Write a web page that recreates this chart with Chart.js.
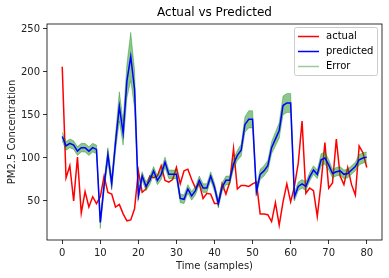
<!DOCTYPE html>
<html>
<head>
<meta charset="utf-8">
<script src="https://cdn.jsdelivr.net/npm/chart.js@4.4.1/dist/chart.umd.min.js"></script>
<style>
  html, body { margin: 0; padding: 0; background: #fff; }
</style>
</head>
<body>
<canvas id="chart" width="389" height="278"></canvas>
<script>
// values, one per sample (0..80)
const actual = [206, 77, 91, 50, 101, 36, 61, 43, 55, 47,
                55, 79, 60, 58, 43, 46, 35, 27, 28, 41,
                85, 60, 64, 79, 77, 79, 91, 74, 72, 75,
                89, 70, 85, 87, 75, 65, 70, 53, 59, 58,
                47, 47, 70, 58, 72, 111, 64, 68, 68, 67,
                70, 72, 35, 35, 34, 26, 48, 22, 49, 70,
                49, 67, 94, 143, 59, 65, 62, 32, 71, 118,
                65, 71, 122, 79, 69, 89, 69, 57, 114, 106,
                89];
const predicted = [125, 114, 117, 115, 108, 112, 112, 108, 112, 110,
                   25, 68, 104, 70, 118, 160, 129, 190, 218, 180,
                   56, 79, 67, 74, 85, 74, 81, 95, 81, 81,
                   81, 53, 52, 64, 56, 62, 74, 65, 65, 79,
                   66, 47, 66, 74, 74, 93, 103, 109, 139, 145,
                   145, 61, 81, 85, 91, 112, 122, 132, 161, 164,
                   164, 55, 67, 70, 67, 78, 86, 81, 98, 100,
                   92, 82, 84, 85, 81, 82, 86, 90, 98, 100,
                   101];
// half width of the green error band
const errorBand = [5, 5, 5, 5, 5, 5, 5, 5, 5, 5,
                   7, 6, 8, 7, 10, 17, 14, 20, 28, 22,
                   5, 5, 5, 5, 5, 5, 6, 6, 5, 5,
                   5, 5, 5, 5, 5, 5, 5, 5, 5, 5,
                   5, 5, 5, 5, 5, 6, 6, 7, 9, 10,
                   10, 5, 6, 6, 6, 7, 8, 9, 11, 11,
                   11, 5, 5, 5, 5, 5, 5, 5, 7, 7,
                   6, 5, 5, 5, 5, 5, 5, 5, 6, 6,
                   6];
const xTicks = [0, 10, 20, 30, 40, 50, 60, 70, 80];
const yTicks = [50, 100, 150, 200, 250];

const FONT = '"DejaVu Sans", sans-serif';
const pts = arr => arr.map((v, i) => ({x: i, y: v}));

// title over the plot, frame + legend box in the top right corner, matplotlib style
const boxLegend = {
    id: 'boxLegend',
    afterDraw(chart) {
        const {ctx, chartArea: a} = chart;
        ctx.save();
        ctx.fillStyle = '#000';
        ctx.font = '12px ' + FONT;
        ctx.textAlign = 'center';
        ctx.textBaseline = 'middle';
        ctx.fillText('Actual vs Predicted', (a.left + a.right) / 2, 12.5);

        ctx.strokeStyle = '#000';
        ctx.lineWidth = 0.8;
        ctx.strokeRect(a.left, a.top, a.right - a.left, a.bottom - a.top);

        const items = [['actual', '#ff0000'], ['predicted', '#0000ff'], ['Error', 'rgba(0,128,0,0.4)']];
        const w = 83, h = 48, x = a.right - w - 5, y = a.top + 3;
        ctx.fillStyle = 'rgba(255,255,255,0.8)';
        ctx.strokeStyle = '#cccccc';
        ctx.lineWidth = 1;
        ctx.beginPath();
        ctx.roundRect(x + 0.5, y + 0.5, w, h, 2);
        ctx.fill();
        ctx.stroke();
        ctx.font = '10px ' + FONT;
        ctx.textAlign = 'left';
        items.forEach(([label, color], k) => {
            const cy = y + 9.5 + k * 15;
            ctx.strokeStyle = color;
            ctx.lineWidth = 1.5;
            ctx.beginPath();
            ctx.moveTo(x + 4, cy);
            ctx.lineTo(x + 25, cy);
            ctx.stroke();
            ctx.fillStyle = '#000';
            ctx.fillText(label, x + 32, cy);
        });
        ctx.restore();
    }
};

new Chart(document.getElementById('chart'), {
    type: 'line',
    data: {
        datasets: [{
            label: 'actual',
            data: pts(actual),
            borderColor: '#ff0000',
            borderWidth: 1.5,
            pointRadius: 0,
            fill: false,
            order: 3
        }, {
            label: 'predicted',
            data: pts(predicted),
            borderColor: '#0000ff',
            borderWidth: 1.5,
            pointRadius: 0,
            fill: false,
            order: 1
        }, {
            label: 'upper',
            data: pts(predicted.map((v, i) => v + errorBand[i])),
            borderColor: 'rgba(0,128,0,0.35)',
            borderWidth: 1,
            pointRadius: 0,
            fill: false,
            order: 2
        }, {
            label: 'Error',
            data: pts(predicted.map((v, i) => v - errorBand[i])),
            borderColor: 'rgba(0,128,0,0.35)',
            backgroundColor: 'rgba(0,128,0,0.45)',
            borderWidth: 1,
            pointRadius: 0,
            fill: '-1',
            order: 2
        }]
    },
    options: {
        responsive: false,
        animation: false,
        layout: { padding: { left: 0, right: 7, top: 24, bottom: 0 } },
        plugins: {
            legend: { display: false },
            tooltip: { enabled: false },
            title: { display: false }
        },
        scales: {
            x: {
                type: 'linear',
                min: -4,
                max: 84,
                afterBuildTicks: s => { s.ticks = xTicks.map(v => ({value: v})); },
                afterFit: s => { s.height = 38; },
                grid: { drawOnChartArea: false, drawTicks: true, tickLength: 4, color: '#000', lineWidth: 0.8 },
                border: { display: false },
                ticks: { color: '#222', padding: 3, maxRotation: 0, font: { family: FONT, size: 10 } },
                title: {
                    display: true,
                    text: 'Time (samples)',
                    color: '#222',
                    font: { family: FONT, size: 10 },
                    padding: { top: 0, bottom: 6 }
                }
            },
            y: {
                min: 4.65,
                max: 255.8,
                afterBuildTicks: s => { s.ticks = yTicks.map(v => ({value: v})); },
                afterFit: s => { s.width = 47; },
                grid: { drawOnChartArea: false, drawTicks: true, tickLength: 4, color: '#000', lineWidth: 0.8 },
                border: { display: false },
                ticks: { color: '#222', padding: 3, font: { family: FONT, size: 10 } },
                title: {
                    display: true,
                    text: 'PM2.5 Concentration',
                    color: '#222',
                    font: { family: FONT, size: 10 },
                    padding: { top: 6, bottom: 0 }
                }
            }
        }
    },
    plugins: [boxLegend]
});
</script>
</body>
</html>
